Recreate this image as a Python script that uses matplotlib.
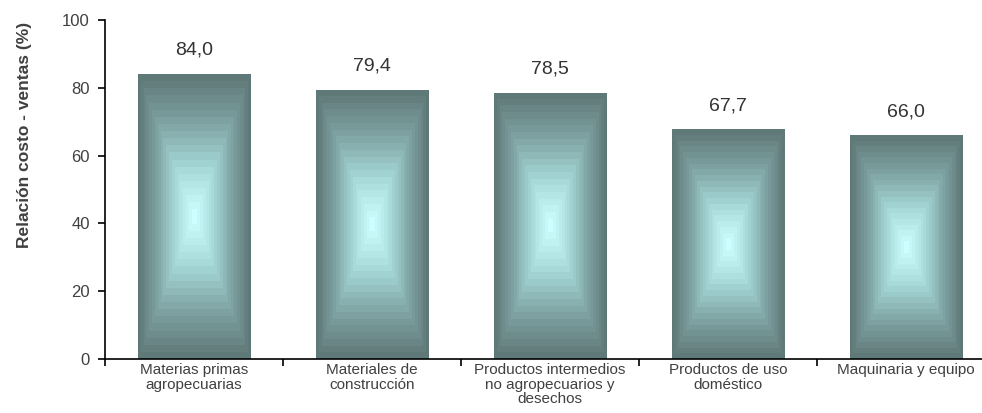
import numpy as np
import matplotlib
matplotlib.use("Agg")
import matplotlib.pyplot as plt
from matplotlib.colors import LinearSegmentedColormap

plt.rcParams["font.family"] = ["Liberation Sans", "DejaVu Sans"]

categories = [
    "Materias primas\nagropecuarias",
    "Materiales de\nconstrucción",
    "Productos intermedios\nno agropecuarios y\ndesechos",
    "Productos de uso\ndoméstico",
    "Maquinaria y equipo",
]
values = [84.0, 79.4, 78.5, 67.7, 66.0]
value_labels = ["84,0", "79,4", "78,5", "67,7", "66,0"]
yticks = [0, 20, 40, 60, 80, 100]

fig = plt.figure(figsize=(9.82, 4.13), dpi=100)
ax = fig.add_axes([105 / 982, 1 - 359 / 413, 890 / 982, 339 / 413])

# rectangular "box" gradient, dark edges and light cyan centre
cmap = LinearSegmentedColormap.from_list("box", ["#ccffff", "#a6d8d8", "#7fa3a3", "#5f7878"], N=20)
n = 800
u = np.linspace(-1, 1, n)
gx, gy = np.meshgrid(u, u)
grad = np.maximum(np.abs(gx), np.abs(gy))

x = np.arange(len(categories))
width = 0.63
bars = ax.bar(x, values, width=width, color="none", edgecolor="none")
for bar, v, lab in zip(bars, values, value_labels):
    x0 = bar.get_x()
    im = ax.imshow(grad, cmap=cmap, vmin=0, vmax=1, aspect="auto",
                   extent=(x0, x0 + width, 0, v), origin="lower",
                   interpolation="nearest", zorder=2)
    im.set_clip_path(bar)
    ax.text(x0 + width / 2, v + 4.5, lab, ha="center", va="bottom",
            fontsize=14, color="#333333")

ax.set_xlim(-0.5, len(categories) - 0.5)
ax.set_ylim(0, 100)
ax.set_yticks(yticks)
ax.set_yticklabels([str(t) for t in yticks], fontsize=12, color="#404040")
ax.set_ylabel("Relación costo - ventas (%)", fontsize=12.5, fontweight="bold",
              color="#404040")
ax.yaxis.set_label_coords(-0.082, 0.66)

ax.set_xticks(np.arange(len(categories) + 1) - 0.5)
ax.set_xticklabels([])
ax.set_xticks(x, minor=True)
ax.set_xticklabels(categories, minor=True, fontsize=11, color="#404040",
                   linespacing=1.05)
ax.tick_params(axis="x", which="minor", length=0, pad=3)
ax.tick_params(axis="x", which="major", length=5, width=1.2, direction="out")
ax.tick_params(axis="y", length=5, width=1.2, direction="out", pad=6)

for s in ["top", "right"]:
    ax.spines[s].set_visible(False)
ax.spines["left"].set_linewidth(1.2)
ax.spines["bottom"].set_linewidth(1.2)

fig.savefig("out.png", dpi=100)
